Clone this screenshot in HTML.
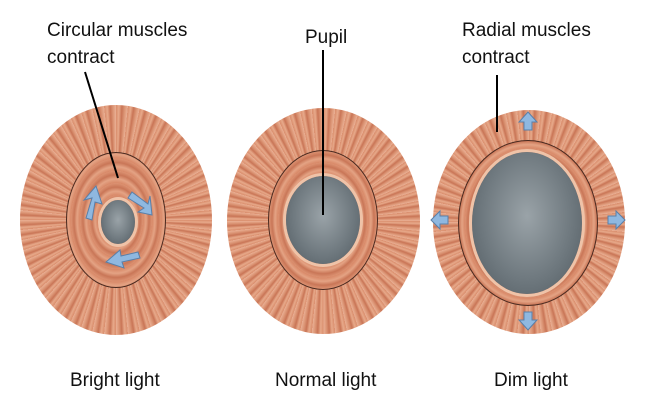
<!DOCTYPE html>
<html><head><style>
body{margin:0;width:645px;height:408px;background:#fff;position:relative;overflow:hidden;font-family:"Liberation Sans",sans-serif;}
.e{position:absolute;border-radius:50%;}
.iris{background:repeating-conic-gradient(from 0deg,#d98d6c 0deg,#e7a98a 1.5deg,#c97556 3deg,#dc9676 4.5deg,#eab095 6deg);}
.ring{background:repeating-radial-gradient(ellipse,#d88867 0px,#e4a384 3px,#c97657 6px,#dc9272 9px);border:1.5px solid #4a2a20;box-sizing:border-box;}
.pupil{background:radial-gradient(ellipse at 50% 45%,#9aa3a8 0%,#6d777d 60%,#4f585e 100%);box-shadow:0 0 0 3px #efc3a8;}
.t{position:absolute;font-size:19px;color:#111;line-height:27px;}
</style></head><body>
<div class="e iris" style="left:20px;top:105px;width:192px;height:230px"></div>
<div class="e ring" style="left:66px;top:152px;width:100px;height:136px"></div>
<div class="e pupil" style="left:101px;top:200px;width:34px;height:44px"></div>

<div class="e iris" style="left:227px;top:108px;width:193px;height:226px"></div>
<div class="e ring" style="left:268px;top:150px;width:110px;height:140px"></div>
<div class="e pupil" style="left:286px;top:176px;width:74px;height:88px"></div>

<div class="e iris" style="left:433px;top:110px;width:192px;height:224px"></div>
<div class="e ring" style="left:458px;top:140px;width:140px;height:166px"></div>
<div class="e pupil" style="left:472px;top:152px;width:110px;height:142px"></div>

<svg style="position:absolute;left:0;top:0" width="645" height="408">
<g stroke="#000" stroke-width="2"><line x1="85" y1="72" x2="118" y2="178"/><line x1="323" y1="50" x2="323" y2="215"/><line x1="497" y1="75" x2="497" y2="132"/></g>
<g fill="#8fb8e0" stroke="#5a7fa8" stroke-width="1">
<path d="M86 218 L92 198 L84 200 L96 186 L102 204 L95 202 L92 220Z"/>
<path d="M132 192 L148 204 L150 196 L152 215 L138 212 L144 208 L128 198Z"/>
<path d="M140 258 L122 262 L124 268 L106 262 L120 250 L121 256 L138 252Z"/>
<path d="M524 130 L532 130 L532 122 L537 122 L528 112 L519 122 L524 122Z"/>
<path d="M524 312 L532 312 L532 320 L537 320 L528 330 L519 320 L524 320Z"/>
<path d="M448 216 L448 224 L440 224 L440 229 L431 220 L440 211 L440 216Z"/>
<path d="M608 216 L608 224 L616 224 L616 229 L625 220 L616 211 L616 216Z"/>
</g></svg>
<div class="t" style="left:47px;top:17px">Circular muscles<br>contract</div>
<div class="t" style="left:305px;top:24px">Pupil</div>
<div class="t" style="left:462px;top:17px">Radial muscles<br>contract</div>
<div class="t" style="left:70px;top:367px">Bright light</div>
<div class="t" style="left:275px;top:367px">Normal light</div>
<div class="t" style="left:494px;top:367px">Dim light</div>
</body></html>
